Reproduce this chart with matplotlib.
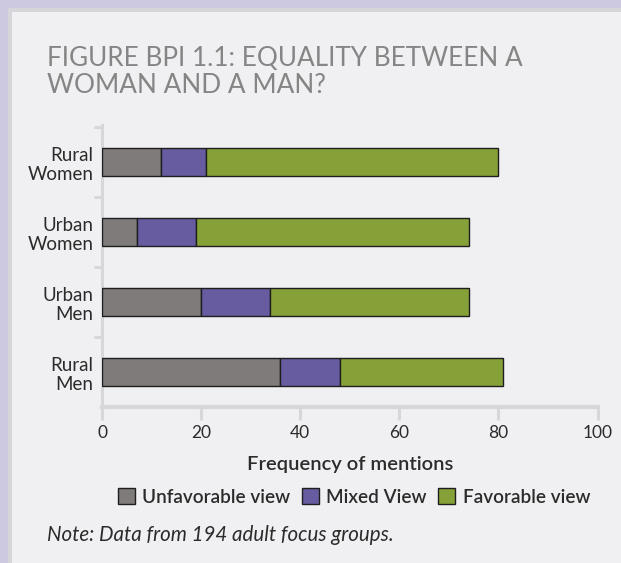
import matplotlib

matplotlib.use("AGG")

import matplotlib.pyplot as plt  # isort:skip
from matplotlib.patches import Patch, Rectangle  # isort:skip

# data, top bar first
groups = ["Rural\nWomen", "Urban\nWomen", "Urban\nMen", "Rural\nMen"]
unfavorable = [12, 7, 20, 36]
mixed = [9, 12, 14, 12]
favorable = [59, 55, 40, 33]
series_names = ["Unfavorable view", "Mixed View", "Favorable view"]
x_ticks = [0, 20, 40, 60, 80, 100]

COLORS = ["#7f7b7a", "#665c9f", "#86a137"]
AXIS_GRAY = "#d7d7db"
TEXT = "#2b2b2b"
FONT = "Lato"

W, H = 621, 563

plt.rcParams["font.family"] = [FONT, "DejaVu Sans"]

fig = plt.figure(figsize=(W / 100, H / 100), dpi=100)
fig.patch.set_facecolor("#cdc9e0")

# panel with thin gray border on top and left
fig.add_artist(Rectangle((8 / W, 0), 1, 1 - 8 / H, transform=fig.transFigure,
                         facecolor="#d6d6da", edgecolor="none", zorder=0))
fig.add_artist(Rectangle((12 / W, 0), 1, 1 - 12 / H, transform=fig.transFigure,
                         facecolor="#f0f0f2", edgecolor="none", zorder=0))

ax = fig.add_axes([102 / W, 1 - 407 / H, 495.5 / W, 282 / H])
ax.set_facecolor("none")

n = len(groups)
pos = [n - 1 - i for i in range(n)]
left = [0] * n
for vals, color in zip([unfavorable, mixed, favorable], COLORS):
    ax.barh(pos, vals, left=left, height=0.4, color=color,
            edgecolor="#1e1e1e", linewidth=1.0, zorder=3)
    left = [l + v for l, v in zip(left, vals)]

ax.set_xlim(0, 100)
ax.set_ylim(-0.5, n - 0.47)

for side in ["top", "right"]:
    ax.spines[side].set_visible(False)
ax.spines["bottom"].set_color(AXIS_GRAY)
ax.spines["bottom"].set_linewidth(3)
ax.spines["left"].set_color(AXIS_GRAY)
ax.spines["left"].set_linewidth(2.2)

ax.set_xticks(x_ticks)
ax.set_xticklabels([str(t) for t in x_ticks], fontsize=12.5, color=TEXT)
ax.tick_params(axis="x", length=9, width=2.2, color=AXIS_GRAY, pad=4)

ax.set_yticks(pos)
ax.set_yticklabels(groups, fontsize=13.5, color=TEXT, linespacing=1.2)
ax.tick_params(axis="y", which="major", length=0, pad=6)
ax.set_yticks([p + 0.5 for p in range(n)], minor=True)
ax.tick_params(axis="y", which="minor", length=6, width=2.2, color=AXIS_GRAY)

ax.set_xlabel("Frequency of mentions", fontsize=14.5, color=TEXT,
              fontweight="semibold", labelpad=11)

fig.text(47 / W, 1 - 46 / H, "FIGURE BPI 1.1: EQUALITY BETWEEN A\nWOMAN AND A MAN?",
         fontsize=18.8, color="#858585", va="top", ha="left",
         linespacing=1.1)

handles = [Patch(facecolor=c, edgecolor="#1e1e1e", linewidth=1) for c in COLORS]
fig.legend(handles, series_names, loc="center", ncol=3,
           bbox_to_anchor=(354 / W, 1 - 497 / H), frameon=False,
           handlelength=0.9, handleheight=0.9, handletextpad=0.4,
           columnspacing=0.6, prop={"size": 13.6, "weight": "semibold"},
           labelcolor=TEXT)

fig.text(47 / W, 1 - 535 / H, "Note: Data from 194 adult focus groups.",
         fontsize=14.8, color=TEXT, style="italic", va="center", ha="left")

fig.savefig("out.png", dpi=100, facecolor=fig.get_facecolor())
plt.close(fig)
